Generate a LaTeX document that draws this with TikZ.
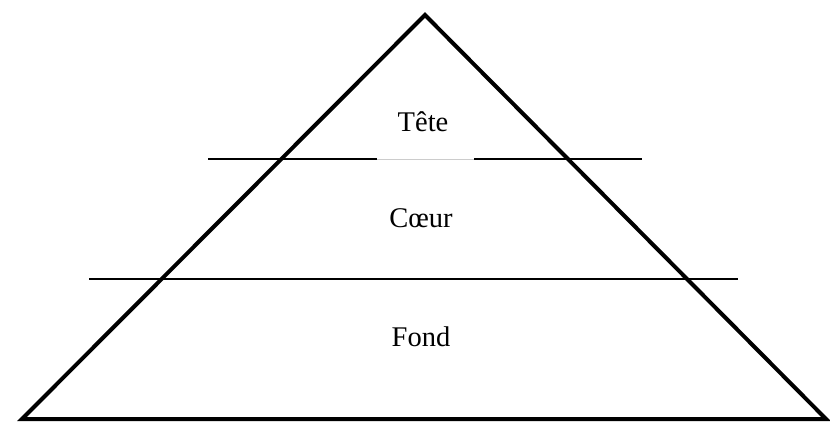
\documentclass[tikz,border=0pt]{standalone}
\usepackage{fontspec}
\setmainfont{Liberation Serif}
\begin{document}
\begin{tikzpicture}[x=1pt, y=-1pt,
  every node/.style={font=\fontsize{28.5}{34}\selectfont, inner sep=0pt},
  edge/.style={line width=4pt, line join=miter},
  rule/.style={line width=1.5pt},
  gap/.style={line width=0.8pt, gray!40}]
\useasboundingbox (0,0) rectangle (830,423);
\coordinate (apex) at (425,15);
\coordinate (bl) at (22,419);
\coordinate (br) at (826,419);
\draw[edge] (bl) -- (apex) -- (br) -- cycle;
% upper split
\coordinate (a1) at (208,159);
\coordinate (a2) at (377,159);
\coordinate (a3) at (474,159);
\coordinate (a4) at (642,159);
\draw[rule] (a1) -- (a2);
\draw[gap] (a2) -- (a3);
\draw[rule] (a3) -- (a4);
% lower split
\coordinate (b1) at (89,279);
\coordinate (b2) at (738,279);
\draw[rule] (b1) -- (b2);
\node (tete) at (423,122) {Tête};
\node (coeur) at (421,218) {Cœur};
\node (fond) at (421,337) {Fond};
\end{tikzpicture}
\end{document}
